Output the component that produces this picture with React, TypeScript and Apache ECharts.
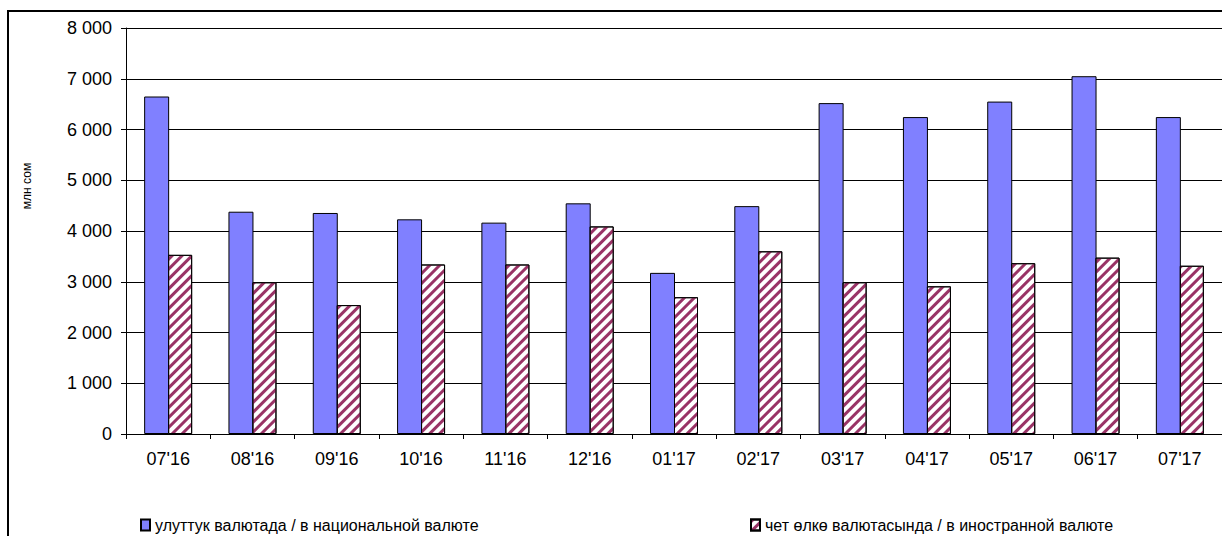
import React, { useEffect, useRef } from "react";
import * as echarts from "echarts";

const categories = ["07'16", "08'16", "09'16", "10'16", "11'16", "12'16", "01'17", "02'17", "03'17", "04'17", "05'17", "06'17", "07'17"];
const nationalValues = [6650, 4380, 4355, 4230, 4165, 4545, 3175, 4490, 6520, 6245, 6550, 7050, 6245];
const foreignValues = [3530, 2990, 2540, 3340, 3340, 4090, 2695, 3600, 2990, 2910, 3365, 3475, 3315];
const nationalName = "улуттук валютада / в национальной валюте";
const foreignName = "чет өлкө валютасында / в иностранной валюте";
const yAxisName = "млн сом";

const FONT = "Liberation Sans, Arial, sans-serif";

export default function App() {
  const ref = useRef<HTMLDivElement>(null);
  useEffect(() => {
    if (!ref.current) return;
    const chart = echarts.init(ref.current, null, { renderer: "svg" });
    const legendText = { fontFamily: FONT, fontSize: 16, color: "#000", padding: [0, 0, 0, 0] };
    chart.setOption({
      animation: false,
      backgroundColor: "#fff",
      grid: { left: 126, top: 28, width: 1102, height: 406, containLabel: false },
      legend: [
        {
          data: [nationalName],
          left: 135,
          top: 512,
          icon: "rect",
          itemWidth: 9,
          itemHeight: 11,
          itemGap: 0,
          textStyle: legendText,
        },
        {
          data: [foreignName],
          left: 745,
          top: 512,
          icon: "rect",
          itemWidth: 9,
          itemHeight: 11,
          itemGap: 0,
          textStyle: legendText,
        },
      ],
      xAxis: {
        type: "category",
        data: categories,
        axisLine: { show: true, lineStyle: { color: "#000", width: 1 } },
        axisTick: { show: true, alignWithLabel: false, length: 5, lineStyle: { color: "#000" } },
        axisLabel: { fontFamily: FONT, fontSize: 18, color: "#000", margin: 16, interval: 0 },
        splitLine: { show: false },
      },
      yAxis: {
        type: "value",
        min: 0,
        max: 8000,
        interval: 1000,
        axisLine: { show: true, lineStyle: { color: "#000", width: 1 } },
        axisTick: { show: true, length: 5, lineStyle: { color: "#000" } },
        axisLabel: {
          fontFamily: FONT,
          fontSize: 18,
          color: "#000",
          margin: 14,
          formatter: (v: number) => String(v).replace(/\B(?=(\d{3})+(?!\d))/g, " "),
        },
        splitLine: { show: true, lineStyle: { color: "#000", width: 1 } },
      },
      series: [
        {
          name: nationalName,
          type: "bar",
          data: nationalValues,
          barWidth: 25,
          barGap: "-4%",
          itemStyle: { color: "#8080FF", borderColor: "#000", borderWidth: 1 },
        },
        {
          name: foreignName,
          type: "bar",
          data: foreignValues,
          barWidth: 24,
          itemStyle: {
            color: "#fff",
            borderColor: "#000",
            borderWidth: 1,
            decal: {
              symbol: "rect",
              symbolSize: 1,
              dashArrayX: [1, 0],
              dashArrayY: [2.6, 3.2],
              rotation: -Math.PI / 4,
              color: "#993366",
              backgroundColor: "#fff",
            },
          },
        },
      ],
      graphic: [
        {
          type: "rect",
          shape: { x: 8, y: 11, width: 1400, height: 700 },
          style: { fill: "none", stroke: "#000", lineWidth: 2 },
          silent: true,
          z: 100,
        },
        {
          type: "text",
          x: 27,
          y: 186,
          rotation: Math.PI / 2,
          style: {
            text: yAxisName,
            fontFamily: FONT,
            fontSize: 12,
            fill: "#000",
            align: "center",
            verticalAlign: "middle",
          },
        },
      ],
    });
    return () => chart.dispose();
  }, []);
  return (
    <div
      ref={ref}
      style={{ position: "absolute", left: 0, top: 0, width: 1222, height: 536 }}
    />
  );
}
